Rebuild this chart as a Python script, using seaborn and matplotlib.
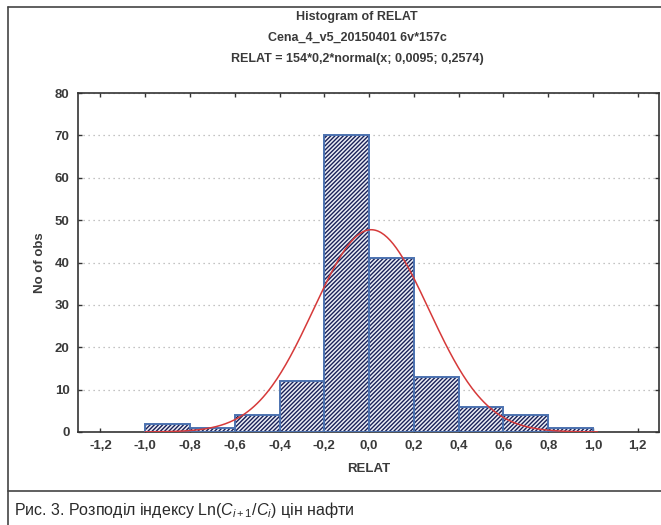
import numpy as np
import pandas as pd
import matplotlib
matplotlib.use("Agg")
import matplotlib.pyplot as plt
import seaborn as sns

# Data
bin_edges = [-1.0, -0.8, -0.6, -0.4, -0.2, 0.0, 0.2, 0.4, 0.6, 0.8, 1.0]
counts = [2, 1, 4, 12, 70, 41, 13, 6, 4, 1]
n_obs = 154
bin_width = 0.2
fit_mean = 0.0095
fit_sd = 0.2574
x_ticks = [-1.2, -1.0, -0.8, -0.6, -0.4, -0.2, 0.0, 0.2, 0.4, 0.6, 0.8, 1.0, 1.2]
y_ticks = [0, 10, 20, 30, 40, 50, 60, 70, 80]

sns.set_theme(style="white")
plt.rcParams['font.family'] = ['Liberation Sans', 'DejaVu Sans']
plt.rcParams['mathtext.fontset'] = 'custom'
plt.rcParams['mathtext.rm'] = 'Liberation Sans'
plt.rcParams['mathtext.it'] = 'Liberation Sans:italic'
plt.rcParams['hatch.linewidth'] = 1.0

txt = '#3a3a3a'
fig = plt.figure(figsize=(6.61, 5.25), dpi=100)
ax = fig.add_axes([78/661, 1-432/525, (659-78)/661, (432-93)/525])

centers = [(bin_edges[i] + bin_edges[i+1]) / 2 for i in range(len(counts))]
df = pd.DataFrame({'RELAT': centers, 'n': counts})
sns.histplot(data=df, x='RELAT', weights='n', bins=bin_edges, ax=ax,
             stat='count', color='#eceef5', edgecolor='#1a2158', linewidth=0,
             hatch='////////', alpha=1, zorder=2)
# blue outlines on top
sns.histplot(data=df, x='RELAT', weights='n', bins=bin_edges, ax=ax,
             stat='count', fill=False, element='bars', edgecolor='#2a3fc2',
             linewidth=1.4, zorder=3)

xs = np.linspace(-1.0, 1.02, 300)
ys = n_obs * bin_width * np.exp(-0.5 * ((xs - fit_mean) / fit_sd) ** 2) / (fit_sd * np.sqrt(2 * np.pi))
sns.lineplot(x=xs, y=ys, ax=ax, color='#d63a3a', linewidth=1.1, zorder=4)

ax.set_xlim(-1.3, 1.295)
ax.set_ylim(0, 80)
ax.set_xticks(x_ticks)
ax.set_xticklabels([f"{t:.1f}".replace('.', ',') for t in x_ticks])
ax.set_yticks(y_ticks)
ax.yaxis.grid(True, linestyle=(0, (1, 3)), color='#b0b0b0', linewidth=0.9)
ax.set_axisbelow(True)
ax.tick_params(direction='in', length=3, width=1, top=True, right=True,
               bottom=True, left=True, colors='#333333', labelsize=9.5,
               labelcolor=txt, pad=6)
for lab in ax.get_xticklabels() + ax.get_yticklabels():
    lab.set_fontweight('bold')
for s in ax.spines.values():
    s.set_color('#333333')
    s.set_linewidth(1.2)
ax.set_xlabel('RELAT', fontsize=9.5, fontweight='bold', color=txt, labelpad=8)
ax.set_ylabel('No of obs', fontsize=9.5, fontweight='bold', color=txt, labelpad=6)

cx = 357 / 661
fig.text(cx, 1-17/525, 'Histogram of RELAT', ha='center', va='center',
         fontsize=9, fontweight='bold', color=txt)
fig.text(cx, 1-38/525, 'Cena_4_v5_20150401 6v*157c', ha='center', va='center',
         fontsize=9, fontweight='bold', color=txt)
fig.text(cx, 1-59/525, 'RELAT = 154*0,2*normal(x; 0,0095; 0,2574)', ha='center', va='center',
         fontsize=9, fontweight='bold', color=txt)

# outer frame lines
fig.add_artist(plt.Line2D([8/661, 8/661], [0, 1-7/525], transform=fig.transFigure, color='#444444', lw=1.2))
fig.add_artist(plt.Line2D([8/661, 1], [1-7/525, 1-7/525], transform=fig.transFigure, color='#444444', lw=1.2))
fig.add_artist(plt.Line2D([8/661, 1], [1-491/525, 1-491/525], transform=fig.transFigure, color='#444444', lw=1.2))

fig.text(14/661, 1-510/525, r'Рис. 3. Розподіл індексу Ln($C_{i+1}$/$C_i$) цін нафти',
         ha='left', va='center', fontsize=11.5, color='#2a2a2a')

fig.savefig('out.png', dpi=100, facecolor='white')
